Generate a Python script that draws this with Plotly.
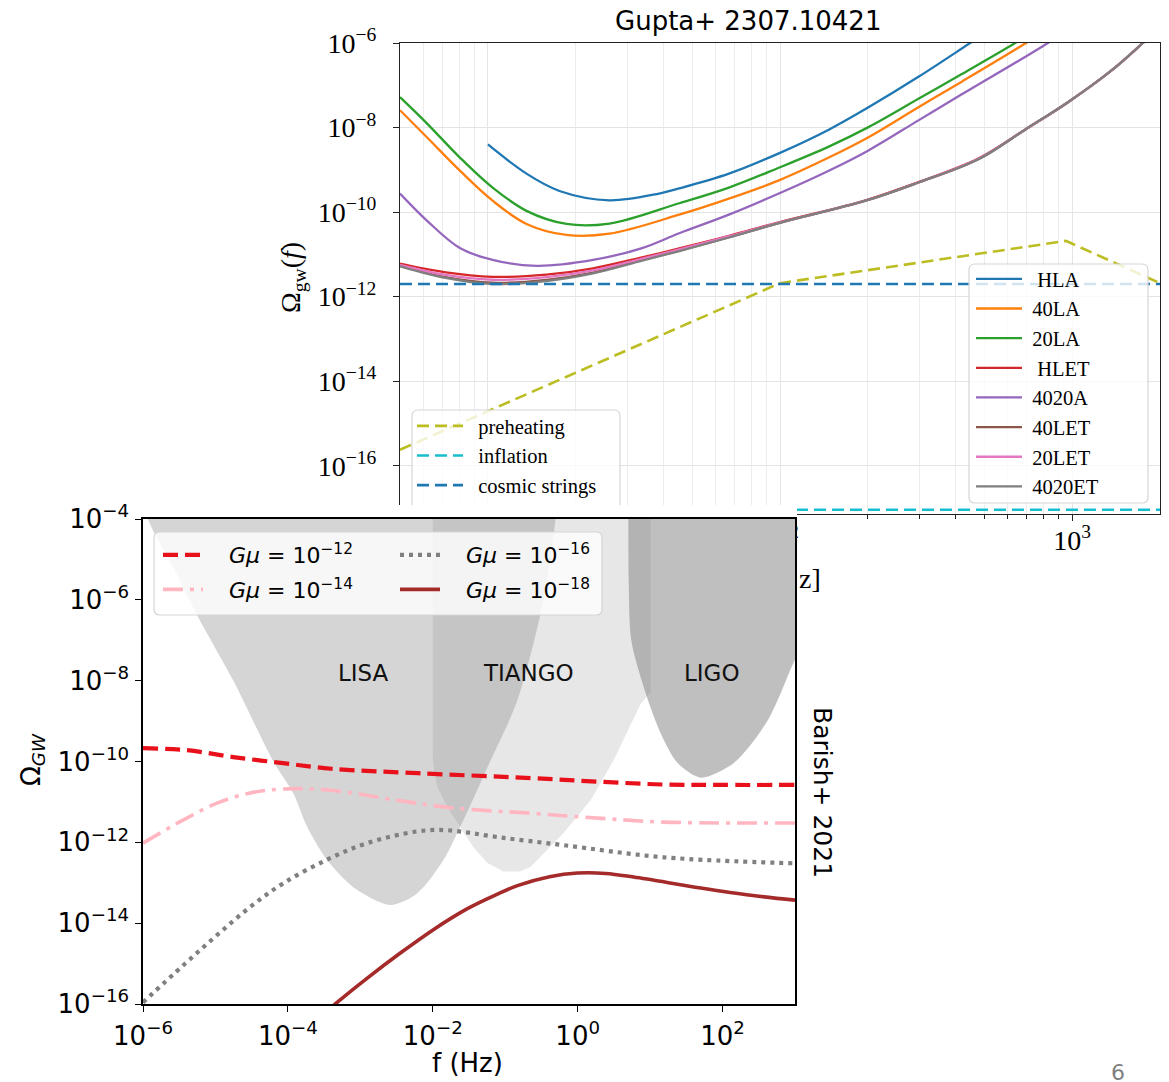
import numpy as np
import plotly.graph_objects as go

W, H = 1169, 1082
OFF = 8  # the page body margin shifts the figure by 8 px in the browser window


def px(x):
    return (x - OFF) / W


def py(y):
    return 1 - (y - OFF) / H


# ---------------- Top chart (Gupta+ 2307.10421): log10 f [Hz], log10 Omega_gw ----------------
hla_logf = [1.00, 1.132, 1.245, 1.416, 1.586, 1.655, 1.825, 1.996, 2.167, 2.303, 2.474, 2.651, 2.75]
hla_logo = [-8.40, -9.09, -9.50, -9.72, -9.56, -9.44, -9.09, -8.61, -8.05, -7.52, -6.80, -6.00, -5.55]

la40_logf = [0.699, 0.791, 0.904, 1.016, 1.132, 1.269, 1.416, 1.655, 1.825, 1.996, 2.167, 2.303, 2.474, 2.621, 2.842, 2.95]
la40_logo = [-7.59, -8.23, -9.02, -9.73, -10.28, -10.54, -10.51, -10.06, -9.68, -9.25, -8.71, -8.23, -7.52, -6.92, -6.00, -5.50]

la20_logf = [0.699, 0.791, 0.904, 1.016, 1.132, 1.269, 1.416, 1.655, 1.825, 1.996, 2.167, 2.303, 2.474, 2.621, 2.805, 2.90]
la20_logo = [-7.28, -7.90, -8.71, -9.42, -9.97, -10.28, -10.27, -9.79, -9.42, -8.95, -8.45, -7.99, -7.32, -6.74, -6.00, -5.58]

a4020_logf = [0.699, 0.791, 0.904, 1.016, 1.167, 1.36, 1.528, 1.655, 1.825, 1.996, 2.167, 2.303, 2.474, 2.621, 2.917, 3.00]
a4020_logo = [-9.56, -10.20, -10.85, -11.13, -11.27, -11.13, -10.85, -10.50, -10.06, -9.56, -9.02, -8.54, -7.83, -7.22, -6.00, -5.60]

et_logf = [0.699, 0.85, 1.016, 1.20, 1.36, 1.528, 1.655, 1.825, 1.996, 2.293, 2.474, 2.679, 2.839, 2.986, 3.133, 3.242, 3.32]
hlet_logo = [-11.22, -11.42, -11.53, -11.48, -11.33, -11.07, -10.86, -10.56, -10.24, -9.72, -9.29, -8.73, -8.05, -7.40, -6.66, -6.00, -5.50]
let40_logo = [-11.27, -11.53, -11.67, -11.60, -11.43, -11.13, -10.91, -10.59, -10.26, -9.73, -9.30, -8.75, -8.05, -7.40, -6.66, -6.00, -5.50]
let20_logo = [-11.25, -11.48, -11.60, -11.54, -11.38, -11.10, -10.88, -10.57, -10.25, -9.73, -9.30, -8.74, -8.05, -7.40, -6.66, -6.00, -5.50]
et4020_logo = [-11.28, -11.55, -11.70, -11.63, -11.45, -11.15, -10.92, -10.60, -10.26, -9.73, -9.30, -8.75, -8.05, -7.40, -6.66, -6.00, -5.50]

preheat_logf = [0.699, 2.0, 2.979, 3.301]
preheat_logo = [-15.62, -11.68, -10.68, -11.68]
flat_logf = [0.699, 3.301]
inflation_logo = [-17.04, -17.04]
strings_logo = [-11.70, -11.70]

top_names = ["HLA", "40LA", "20LA", "HLET", "4020A", "40LET", "20LET", "4020ET"]
top_colors = ["#1f77b4", "#ff7f0e", "#2ca02c", "#d62728", "#9467bd", "#8c564b", "#e377c2", "#7f7f7f"]
model_names = ["preheating", "inflation", "cosmic strings"]
model_colors = ["#bcbd22", "#17becf", "#1f77b4"]

top_xtick_vals = [10, 100, 1000]
top_xtick_text = ["10<sup>1</sup>", "10<sup>2</sup>", "10<sup>3</sup>"]
top_xminor_vals = [6, 7, 8, 9, 20, 30, 40, 50, 60, 70, 80, 90, 200, 300, 400, 500, 600, 700, 800, 900]
top_ytick_exp = [-6, -8, -10, -12, -14, -16]

# ---------------- Bottom chart (Barish+ 2021) ----------------
lisa_logf = [-5.96, -5.93, -5.585, -5.253, -4.756, -4.203, -3.927, -3.733, -3.457, -3.097, -2.586,
             -2.213, -1.853, -1.577, -1.245, -0.831, -0.471, -0.305, -0.28]
lisa_logo = [-3.5, -4.0, -5.19, -6.38, -7.99, -9.99, -10.78, -11.62, -12.44, -13.11, -13.55,
             -13.26, -12.44, -11.45, -10.14, -8.48, -6.00, -4.0, -3.5]

tiango_logf = [-2.0, -2.0, -1.98, -1.936, -1.798, -1.618, -1.439, -1.245, -1.024, -0.80, -0.651, -0.195, 0.178, 0.496, 0.869, 0.95, 1.008, 1.008]
tiango_logo = [-3.5, -9.9, -10.25, -10.63, -11.13, -11.62, -12.12, -12.51, -12.72, -12.72, -12.61, -11.77, -10.96, -9.97, -8.58, -8.40, -8.30, -3.5]

ligo_logf = [0.700, 0.705, 0.740, 0.912, 1.146, 1.381, 1.699, 2.155, 2.625, 2.943, 3.02, 3.02]
ligo_logo = [-3.5, -5.6, -7.00, -8.16, -9.30, -10.04, -10.40, -10.04, -8.98, -7.70, -7.35, -3.5]

gmu12_logf = [-6.0, -5.39, -4.756, -4.065, -3.4, -2.2, -0.65, 0.3, 1.2, 2.0, 3.0]
gmu12_logo = [-9.67, -9.72, -9.89, -10.04, -10.18, -10.29, -10.41, -10.50, -10.57, -10.58, -10.58]

gmu14_logf = [-6.0, -5.447, -4.977, -4.52, -4.065, -3.415, -2.49, -1.715, -0.651, 0.275, 1.187, 3.0]
gmu14_logo = [-12.02, -11.45, -11.03, -10.78, -10.68, -10.71, -10.96, -11.15, -11.28, -11.40, -11.50, -11.52]

gmu16_logf = [-6.0, -5.443, -4.981, -4.521, -4.061, -3.461, -2.908, -2.217, -1.798, -1.107, -0.195, 1.187, 3.0]
gmu16_logo = [-15.96, -15.04, -14.30, -13.60, -13.01, -12.43, -12.02, -11.73, -11.70, -11.87, -12.07, -12.37, -12.52]

gmu18_logf = [-3.6, -3.346, -2.904, -2.448, -1.992, -1.522, -1.107, -0.831, -0.388, 0.0, 0.386, 0.773, 1.699, 2.39, 3.0]
gmu18_logo = [-16.40, -16.0, -15.36, -14.74, -14.16, -13.64, -13.28, -13.07, -12.85, -12.76, -12.77, -12.86, -13.13, -13.31, -13.43]

gmu_labels = ["<i>Gμ</i> = 10<sup>\u221212</sup>", "<i>Gμ</i> = 10<sup>\u221214</sup>",
              "<i>Gμ</i> = 10<sup>\u221216</sup>", "<i>Gμ</i> = 10<sup>\u221218</sup>"]

bot_xtick_exp = [-6, -4, -2, 0, 2]
bot_ytick_exp = [-4, -6, -8, -10, -12, -14, -16]


def pw(a):
    return [10.0 ** v for v in a]


def sup(e):
    s = str(e).replace("-", "\u2212")
    return f"10<sup>{s}</sup>"


NB = "\u00a0"
SERIF = "Liberation Serif"
SANS = "DejaVu Sans"

fig = go.Figure()

# ---- top chart traces ----
top_logo = [hla_logo, la40_logo, la20_logo, hlet_logo, a4020_logo, let40_logo, let20_logo, et4020_logo]
top_logf = [hla_logf, la40_logf, la20_logf, et_logf, a4020_logf, et_logf, et_logf, et_logf]
for name, color, lf, lo in zip(top_names, top_colors, top_logf, top_logo):
    pad = NB * (2 if name in ("HLA", "HLET") else 1)
    fig.add_trace(go.Scatter(
        x=pw(lf), y=pw(lo), mode="lines", name=pad + name,
        line=dict(color=color, width=2.3, shape="spline", smoothing=1.0),
        xaxis="x", yaxis="y", legend="legend", hoverinfo="skip"))

for name, color, lf, lo in zip(model_names, model_colors,
                               [preheat_logf, flat_logf, flat_logf],
                               [preheat_logo, inflation_logo, strings_logo]):
    fig.add_trace(go.Scatter(
        x=pw(lf), y=pw(lo), mode="lines", name=NB * 2 + name,
        line=dict(color=color, width=2.6, dash="12px,6px"),
        xaxis="x", yaxis="y", legend="legend2", hoverinfo="skip"))

# ---- white panel of the second figure (covers the lower part of the first) ----
fig.add_trace(go.Scatter(
    x=[0, 1, 1, 0, 0], y=[0, 0, 1, 1, 0], mode="lines", fill="toself",
    fillcolor="white", line=dict(color="white", width=0),
    showlegend=False, hoverinfo="skip", xaxis="x2", yaxis="y2"))

# ---- bottom chart: detector regions ----
for lf, lo, alpha, shp in [(lisa_logf, lisa_logo, 0.33, "spline"), (tiango_logf, tiango_logo, 0.19, "linear"),
                           (ligo_logf, ligo_logo, 0.50, "spline")]:
    fig.add_trace(go.Scatter(
        x=pw(lf), y=pw(lo), mode="lines", fill="toself",
        fillcolor=f"rgba(128,128,128,{alpha})",
        line=dict(width=0, color="rgba(0,0,0,0)", shape=shp, smoothing=0.8),
        showlegend=False, hoverinfo="skip", xaxis="x3", yaxis="y3"))

# ---- bottom chart: cosmic string spectra ----
bot_styles = [dict(color="#e8101a", width=4.2, dash="15px,7px"),
              dict(color="#ffb6c1", width=3.6, dash="20px,7px,4px,7px"),
              dict(color="#808080", width=4.2, dash="4px,5px"),
              dict(color="#a52a2a", width=3.6)]
bot_legends = ["legend3", "legend3", "legend4", "legend4"]
for name, lf, lo, ln, lg in zip(gmu_labels, [gmu12_logf, gmu14_logf, gmu16_logf, gmu18_logf],
                                [gmu12_logo, gmu14_logo, gmu16_logo, gmu18_logo], bot_styles, bot_legends):
    ln = dict(ln)
    ln["shape"] = "spline"
    ln["smoothing"] = 1.0
    fig.add_trace(go.Scatter(
        x=pw(lf), y=pw(lo), mode="lines", name=NB * 3 + name, line=ln,
        xaxis="x3", yaxis="y3", legend=lg, legendgroup=name, hoverinfo="skip"))


def rounded_box(x0, y0, x1, y1, r=6, bottom=True):
    rx, ry = r / W, r / H
    X0, X1 = px(x0), px(x1)
    Y0, Y1 = py(y0), py(y1)  # Y0 top, Y1 bottom (paper)
    if bottom:
        return (f"M {X0 + rx},{Y0} L {X1 - rx},{Y0} Q {X1},{Y0} {X1},{Y0 - ry} "
                f"L {X1},{Y1 + ry} Q {X1},{Y1} {X1 - rx},{Y1} L {X0 + rx},{Y1} "
                f"Q {X0},{Y1} {X0},{Y1 + ry} L {X0},{Y0 - ry} Q {X0},{Y0} {X0 + rx},{Y0} Z")
    return (f"M {X0},{Y1} L {X0},{Y0 - ry} Q {X0},{Y0} {X0 + rx},{Y0} L {X1 - rx},{Y0} "
            f"Q {X1},{Y0} {X1},{Y0 - ry} L {X1},{Y1}")


shapes = [
    dict(type="path", xref="paper", yref="paper", layer="above",
         path=rounded_box(969, 264, 1148, 503), fillcolor="rgba(255,255,255,0.8)",
         line=dict(color="#d5d5d5", width=1.2)),
    dict(type="path", xref="paper", yref="paper", layer="above",
         path=rounded_box(412, 410, 620, 505, bottom=False) + " Z", fillcolor="rgba(255,255,255,0.8)",
         line=dict(color="rgba(0,0,0,0)", width=0)),
    dict(type="path", xref="paper", yref="paper", layer="above",
         path=rounded_box(412, 410, 620, 505, bottom=False), line=dict(color="#d5d5d5", width=1.2)),
    dict(type="path", xref="paper", yref="paper", layer="above",
         path=rounded_box(154, 532, 602, 615), fillcolor="rgba(255,255,255,0.8)",
         line=dict(color="#d5d5d5", width=1.2)),
]


def ann(text, x, y, family, size, color="black", angle=0, xanchor="center"):
    return dict(text=text, x=px(x), y=py(y), xref="paper", yref="paper", showarrow=False,
                textangle=angle, font=dict(family=family, size=size, color=color),
                xanchor=xanchor, yanchor="middle")


annotations = [
    ann("Gupta+ 2307.10421", 748, 21, SANS, 26),
    ann("Ω<sub>gw</sub>(<i>f</i>)", 292, 278, SERIF, 28, angle=-90),
    ann("z]", 797, 578, SERIF, 28, xanchor="left"),  # visible end of the first figure's x title
    ann("Barish+ 2021", 823, 792, SANS, 25, angle=90),
    ann("6", 1118, 1072, SANS, 22, color="#7f7f7f"),
    ann("Ω<sub><i>GW</i></sub>", 32, 760, SANS, 26, angle=-90),
    ann("f (Hz)", 467, 1063, SANS, 26),
    ann("LISA", 363, 673, SANS, 23, color="#111"),
    ann("TIANGO", 528, 673, SANS, 23, color="#111"),
    ann("LIGO", 712, 673, SANS, 23, color="#111"),
]

common_top = dict(showline=True, mirror=True, linecolor="#222", linewidth=1.2, zeroline=False,
                  ticks="outside", tickcolor="#222", tickwidth=1.1, ticklen=6, automargin=False,
                  tickfont=dict(family=SERIF, size=28, color="black"))
common_bot = dict(showline=True, mirror=True, linecolor="black", linewidth=1.5, zeroline=False,
                  ticks="outside", tickcolor="black", tickwidth=1.4, ticklen=6, showgrid=False,
                  automargin=False, tickfont=dict(family=SANS, size=26, color="black"))

legend_common = dict(xanchor="left", yanchor="top", bgcolor="rgba(0,0,0,0)", borderwidth=0)

fig.update_layout(
    template="none",
    width=W, height=H, autosize=False,
    margin=dict(l=0, r=0, t=0, b=0, pad=0, autoexpand=False),
    paper_bgcolor="white", plot_bgcolor="white",
    xaxis=dict(type="log", domain=[px(400), px(1160)], range=[np.log10(5), np.log10(2000)], anchor="y",
               tickmode="array", tickvals=top_xtick_vals, ticktext=top_xtick_text,
               showgrid=True, gridcolor="#e4e4e4", gridwidth=1, ticklabelstandoff=-5,
               minor=dict(tickmode="array", tickvals=top_xminor_vals, ticks="outside", ticklen=3.5,
                          tickcolor="#222", tickwidth=1, showgrid=True, gridcolor="#ececec", gridwidth=1),
               **common_top),
    yaxis=dict(type="log", domain=[py(514), py(43)], range=[-17.14, -6], anchor="x",
               tickmode="array", tickvals=[10.0 ** e for e in top_ytick_exp],
               ticktext=[sup(e) for e in top_ytick_exp], showgrid=True, gridcolor="#e4e4e4",
               ticklabelstandoff=11, **common_top),
    xaxis2=dict(domain=[0, px(797)], range=[0, 1], visible=False, anchor="y2", fixedrange=True),
    yaxis2=dict(domain=[0, py(505)], range=[0, 1], visible=False, anchor="x2", fixedrange=True),
    xaxis3=dict(type="log", domain=[px(143), px(795)], range=[-6, 3], anchor="y3",
                tickmode="array", tickvals=[10.0 ** e for e in bot_xtick_exp],
                ticktext=[sup(e) for e in bot_xtick_exp], ticklabelstandoff=2, **common_bot),
    yaxis3=dict(type="log", domain=[py(1004), py(519)], range=[-16, -4], anchor="x3",
                tickmode="array", tickvals=[10.0 ** e for e in bot_ytick_exp],
                ticktext=[sup(e) for e in bot_ytick_exp], ticklabelstandoff=1, **common_bot),
    legend=dict(x=px(971), y=py(259), font=dict(family=SERIF, size=20.5, color="black"),
                itemwidth=46, tracegroupgap=0, **legend_common),
    legend2=dict(x=px(412), y=py(406), font=dict(family=SERIF, size=20.5, color="black"),
                 itemwidth=46, **legend_common),
    legend3=dict(x=px(158), y=py(534), font=dict(family=SANS, size=22, color="black"),
                 itemwidth=40, tracegroupgap=3, **legend_common),
    legend4=dict(x=px(395), y=py(534), font=dict(family=SANS, size=22, color="black"),
                 itemwidth=40, tracegroupgap=3, **legend_common),
    shapes=shapes,
    annotations=annotations,
    showlegend=True,
)

fig.write_html("out.html")
